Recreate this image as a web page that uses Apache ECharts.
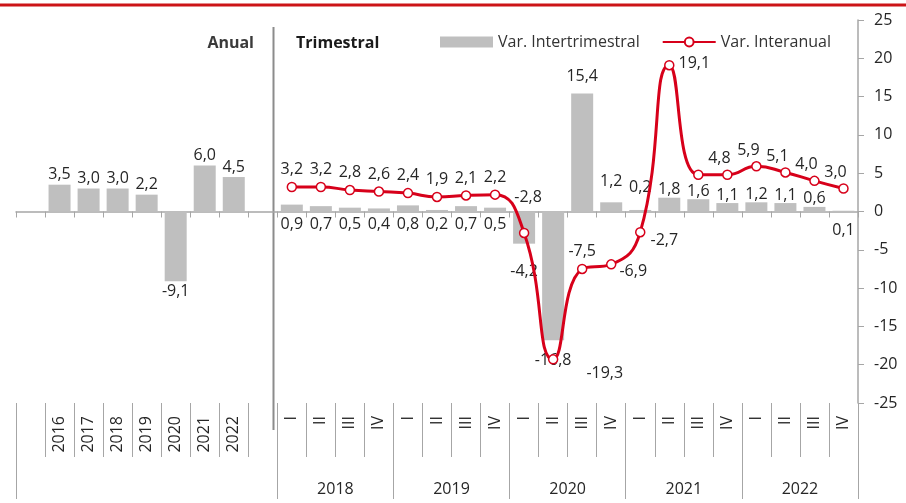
<!DOCTYPE html>
<html>
<head>
<meta charset="utf-8">
<script src="https://cdn.jsdelivr.net/npm/echarts@6/dist/echarts.min.js"></script>
<style>
html,body{margin:0;padding:0;background:#fff;}
#chart{width:906px;height:503px;}
</style>
</head>
<body>
<div id="chart"></div>
<script>
// ---- data ----
const annualYears = ['2016', '2017', '2018', '2019', '2020', '2021', '2022'];
const annualGrowth = [3.5, 3.0, 3.0, 2.2, -9.1, 6.0, 4.5];
const quarterYears = ['2018', '2019', '2020', '2021', '2022'];
const quarterNames = ['I', 'II', 'III', 'IV'];
const qoqGrowth = [0.9, 0.7, 0.5, 0.4, 0.8, 0.2, 0.7, 0.5, -4.2, -16.8, 15.4, 1.2, 0.2, 1.8, 1.6, 1.1, 1.2, 1.1, 0.6, 0.1];
const yoyGrowth = [3.2, 3.2, 2.8, 2.6, 2.4, 1.9, 2.1, 2.2, -2.8, -19.3, -7.5, -6.9, -2.7, 19.1, 4.8, 4.8, 5.9, 5.1, 4.0, 3.0];
const yTicks = {min: -25, max: 25, step: 5};
const seriesNames = ['Var. Intertrimestral', 'Var. Interanual'];
const panelTitles = ['Anual', 'Trimestral'];

// ---- layout / style ----
const RED = '#d7001a';
const GRAY = '#bfbfbf';
const AXIS = '#a6a6a6';
const TXT = '#262626';
const FONT = '"Open Sans", "Noto Sans", sans-serif';

const quarterKeys = [];
quarterYears.forEach(y => quarterNames.forEach(q => quarterKeys.push(y + ' ' + q)));
const categories = ['gapA'].concat(annualYears, ['gapB'], quarterKeys);
const qStart = 2 + annualYears.length;
const nCat = categories.length;

const fmt = v => (v == null ? '' : Number(v).toFixed(1).replace('.', ','));

// label placements (style only)
const annualLabel = annualGrowth.map(v => ({position: 'outside', distance: 2}));
const qoqLabel = qoqGrowth.map((v, i) => {
  if (i < 8) return {position: 'bottom', distance: 5};
  if (i === 8) return {position: 'outside', distance: 20};
  if (i === 9) return {position: 'outside', distance: 12};
  if (i === 10) return {position: 'outside', distance: 9};
  if (i === 11) return {position: 'outside', distance: 13};
  if (i === 12) return {position: 'outside', distance: 15};
  if (i === 19) return {position: 'bottom', distance: 11};
  return {position: 'outside', distance: 0};
});
const yoyLabel = yoyGrowth.map((v, i) => {
  if (i === 8) return {position: 'top', distance: 22, offset: [4, 0]};
  if (i === 9) return {position: 'right', distance: 28, offset: [0, 14]};
  if (i === 10) return {position: 'top', distance: 4};
  if (i === 11) return {position: 'right', distance: 3, offset: [0, 7]};
  if (i === 12) return {position: 'right', distance: 5, offset: [0, 8]};
  if (i === 13) return {position: 'right', distance: 4, offset: [0, -2]};
  if (i === 14) return {show: false};
  if (i > 14) return {position: 'top', distance: 3, offset: [-8, 0]};
  return {position: 'top', distance: 4};
});

const barData = new Array(nCat).fill(null);
annualGrowth.forEach((v, i) => { barData[1 + i] = {value: v, label: annualLabel[i]}; });
qoqGrowth.forEach((v, i) => { barData[qStart + i] = {value: v, label: qoqLabel[i]}; });
const lineData = new Array(nCat).fill(null);
yoyGrowth.forEach((v, i) => { lineData[qStart + i] = {value: v, label: yoyLabel[i]}; });

// group boundaries for long ticks and year labels (category index units)
const longTicks = [0, qStart];
quarterYears.forEach((y, k) => longTicks.push(qStart + quarterNames.length * (k + 1)));
const yearCenters = quarterYears.map((y, k) => qStart + quarterNames.length * k + quarterNames.length / 2);

const chart = echarts.init(document.getElementById('chart'), null, {renderer: 'canvas'});
chart.setOption({
  animation: false,
  backgroundColor: '#fff',
  textStyle: {fontFamily: FONT},
  title: [
    {text: panelTitles[0], right: 652, top: 35, padding: 0, textStyle: {fontSize: 16, fontWeight: 'bold', color: '#3a3a3a', fontFamily: FONT}},
    {text: panelTitles[1], left: 296, top: 35, padding: 0, textStyle: {fontSize: 16, fontWeight: 'bold', color: '#1a1a1a', fontFamily: FONT}}
  ],
  legend: {
    left: 440, top: 34, padding: 0, itemWidth: 53, itemHeight: 11, itemGap: 22,
    textStyle: {fontSize: 16, color: '#333', fontFamily: FONT},
    data: [{name: seriesNames[0], icon: 'rect'}, {name: seriesNames[1]}]
  },
  grid: {left: 16, right: 48, top: 20, bottom: 100},
  xAxis: [
    {
      type: 'category', data: categories, position: 'bottom',
      axisLine: {onZero: true, lineStyle: {color: AXIS, width: 1.5}},
      axisTick: {show: true, interval: 0, length: 6, lineStyle: {color: AXIS}},
      axisLabel: {show: false}, splitLine: {show: false}
    },
    {
      type: 'category', data: categories, position: 'bottom',
      axisLine: {show: false, onZero: false},
      axisTick: {show: true, interval: 0, length: 54, lineStyle: {color: AXIS}},
      axisLabel: {
        interval: 0, rotate: 90, margin: 13, fontSize: 16, color: TXT, fontFamily: FONT,
        formatter: v => (v.indexOf('gap') === 0 ? '' : (v.indexOf(' ') > 0 ? v.split(' ')[1] : v))
      },
      splitLine: {show: false}
    },
    {
      type: 'value', min: 0, max: nCat, position: 'bottom',
      axisLine: {show: false, onZero: false},
      axisTick: {show: true, length: 96, customValues: longTicks, lineStyle: {color: AXIS}},
      axisLabel: {
        show: true, customValues: yearCenters, margin: 78, fontSize: 16, color: TXT, fontFamily: FONT,
        formatter: v => quarterYears[yearCenters.indexOf(Math.round(v))] || ''
      },
      splitLine: {show: false}
    }
  ],
  yAxis: {
    type: 'value', position: 'right', min: yTicks.min, max: yTicks.max, interval: yTicks.step,
    axisLine: {show: true, onZero: false, lineStyle: {color: AXIS, width: 1.5}},
    axisTick: {show: true, length: 6, lineStyle: {color: AXIS}},
    axisLabel: {margin: 16, fontSize: 16, color: TXT, fontFamily: FONT},
    splitLine: {show: false}
  },
  series: [
    {
      name: seriesNames[0], type: 'bar', xAxisIndex: 0, data: barData, barWidth: 22,
      itemStyle: {color: GRAY},
      label: {show: true, fontSize: 16, color: TXT, fontFamily: FONT, formatter: p => fmt(p.value)}
    },
    {
      name: seriesNames[1], type: 'line', xAxisIndex: 0, data: lineData, smooth: 0.5,
      symbol: 'circle', symbolSize: 9, z: 5,
      lineStyle: {color: RED, width: 3},
      itemStyle: {color: '#fff', borderColor: RED, borderWidth: 1.5},
      label: {show: true, fontSize: 16, color: TXT, fontFamily: FONT, formatter: p => fmt(p.value)}
    }
  ],
  graphic: [
    {type: 'line', shape: {x1: 0, y1: 5, x2: 906, y2: 5}, style: {stroke: '#cc1417', lineWidth: 3}, silent: true},
    {type: 'line', shape: {x1: 273.5, y1: 27, x2: 273.5, y2: 430}, style: {stroke: '#8c8c8c', lineWidth: 2}, silent: true}
  ]
});
</script>
</body>
</html>
